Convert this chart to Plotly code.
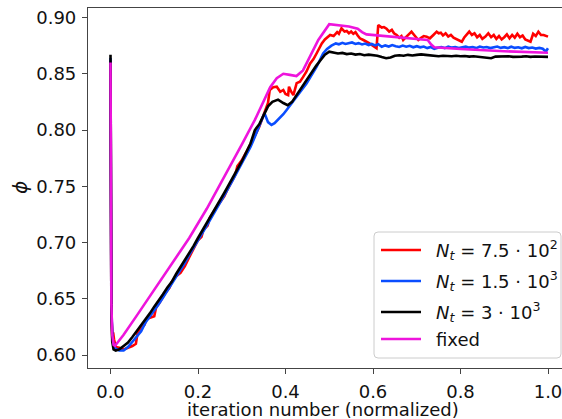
import plotly.graph_objects as go

# ---------------- data ----------------
x_fixed = [0, 0.001, 0.002, 0.004, 0.007, 0.010, 0.03, 0.06, 0.10, 0.14, 0.18, 0.22, 0.26, 0.30,
           0.33, 0.35, 0.365, 0.38, 0.395, 0.41, 0.425, 0.44, 0.46, 0.475, 0.50, 0.52, 0.545, 0.565,
           0.575, 0.585, 0.60, 0.65, 0.70, 0.725, 0.733, 0.74, 0.80, 0.90, 1.0]
y_fixed = [0.860, 0.72, 0.645, 0.618, 0.609, 0.608, 0.618, 0.635, 0.658, 0.681, 0.704, 0.730, 0.758, 0.787,
           0.809, 0.825, 0.838, 0.846, 0.850, 0.849, 0.848, 0.853, 0.868, 0.880, 0.894, 0.893, 0.892, 0.890,
           0.887, 0.885, 0.8845, 0.883, 0.881, 0.880, 0.876, 0.8735, 0.872, 0.870, 0.8687]

x_black = [0, 0.001, 0.002, 0.004, 0.007, 0.012, 0.02, 0.03, 0.04, 0.05, 0.06, 0.07, 0.08, 0.09, 0.10,
           0.11, 0.12, 0.13, 0.14, 0.15, 0.16, 0.17, 0.18, 0.19, 0.20, 0.22, 0.24, 0.26, 0.28, 0.30,
           0.32, 0.33, 0.34, 0.35, 0.36, 0.37, 0.383, 0.395, 0.405, 0.415, 0.43, 0.445, 0.46, 0.47,
           0.48, 0.49, 0.50, 0.51, 0.52, 0.53, 0.54, 0.55, 0.56, 0.57, 0.58, 0.59, 0.60, 0.61, 0.62,
           0.63, 0.64, 0.65, 0.66, 0.67, 0.68, 0.69, 0.70, 0.71, 0.72, 0.73, 0.74, 0.75, 0.76, 0.77,
           0.78, 0.79, 0.80, 0.81, 0.82, 0.83, 0.84, 0.85, 0.86, 0.87, 0.88, 0.89, 0.90, 0.91, 0.92,
           0.93, 0.94, 0.95, 0.96, 0.97, 0.98, 0.99, 1.0]
y_black = [0.867, 0.70, 0.64, 0.612, 0.605, 0.604, 0.605, 0.608, 0.611, 0.616, 0.621, 0.626, 0.632, 0.637, 0.643,
           0.648, 0.654, 0.660, 0.665, 0.672, 0.678, 0.685, 0.691, 0.697, 0.704, 0.717, 0.730, 0.744, 0.758, 0.772,
           0.788, 0.800, 0.805, 0.813, 0.821, 0.825, 0.827, 0.824, 0.822, 0.825, 0.834, 0.843, 0.851, 0.857,
           0.862, 0.867, 0.8696, 0.8687, 0.868, 0.8685, 0.8675, 0.868, 0.867, 0.8675, 0.8665, 0.867, 0.8668, 0.866, 0.8648,
           0.8638, 0.8645, 0.866, 0.8665, 0.866, 0.8668, 0.8662, 0.8668, 0.8672, 0.8668, 0.8665, 0.866, 0.8655, 0.866, 0.8658,
           0.8655, 0.866, 0.8655, 0.8658, 0.8652, 0.8656, 0.8652, 0.865, 0.8642, 0.8638, 0.8652, 0.8655, 0.8652, 0.8656, 0.865,
           0.8654, 0.8652, 0.8655, 0.865, 0.8653, 0.865, 0.8652, 0.865]

x_blue = [0, 0.001, 0.002, 0.005, 0.01, 0.02, 0.03, 0.04, 0.05, 0.06, 0.07, 0.08, 0.09, 0.10, 0.11, 0.12,
          0.13, 0.14, 0.15, 0.16, 0.17, 0.18, 0.19, 0.20, 0.22, 0.24, 0.26, 0.28, 0.30, 0.32, 0.33, 0.34,
          0.352, 0.36, 0.368, 0.375, 0.38, 0.387, 0.395, 0.403, 0.415, 0.4255, 0.437, 0.4484, 0.46, 0.471,
          0.486, 0.495, 0.505, 0.515, 0.522, 0.53, 0.537, 0.545, 0.552, 0.56, 0.567, 0.575, 0.582, 0.59,
          0.597, 0.605, 0.612, 0.62, 0.628, 0.636, 0.644, 0.652, 0.66, 0.668, 0.676, 0.684, 0.692, 0.70,
          0.708, 0.716, 0.724, 0.732, 0.74, 0.748, 0.756, 0.764, 0.772, 0.78, 0.788, 0.796, 0.804, 0.812,
          0.82, 0.828, 0.836, 0.844, 0.852, 0.86, 0.868, 0.876, 0.884, 0.892, 0.90, 0.908, 0.916, 0.924,
          0.932, 0.94, 0.948, 0.956, 0.964, 0.972, 0.98, 0.988, 0.995, 1.0]
y_blue = [0.864, 0.70, 0.64, 0.612, 0.606, 0.604, 0.604, 0.607, 0.612, 0.617, 0.621, 0.629, 0.634, 0.640, 0.645, 0.651,
          0.657, 0.663, 0.669, 0.676, 0.682, 0.689, 0.695, 0.702, 0.715, 0.728, 0.742, 0.756, 0.770, 0.785, 0.794, 0.803,
          0.815, 0.807, 0.8045, 0.806, 0.808, 0.8105, 0.814, 0.818, 0.824, 0.8297, 0.836, 0.8416, 0.849, 0.856,
          0.868, 0.872, 0.875, 0.877, 0.8762, 0.8775, 0.8765, 0.877, 0.8778, 0.8765, 0.8772, 0.876, 0.8768, 0.8755,
          0.8765, 0.8752, 0.8762, 0.874, 0.8752, 0.8742, 0.8755, 0.8745, 0.8738, 0.875, 0.874, 0.8748, 0.8735, 0.8745,
          0.8735, 0.8742, 0.8728, 0.8738, 0.8722, 0.8732, 0.8738, 0.8728, 0.8742, 0.8732, 0.8738, 0.8728, 0.8736, 0.8742,
          0.8732, 0.8738, 0.8728, 0.8742, 0.8733, 0.8738, 0.8728, 0.8735, 0.8742, 0.873, 0.8736, 0.8728, 0.874, 0.873,
          0.8735, 0.8726, 0.8738, 0.8728, 0.8733, 0.8724, 0.873, 0.8722, 0.8698, 0.8727]

x_red = [0, 0.001, 0.002, 0.004, 0.006, 0.008, 0.012, 0.02, 0.03, 0.04, 0.05, 0.058, 0.062, 0.07, 0.078, 0.082,
         0.095, 0.10, 0.104, 0.113, 0.125, 0.135, 0.14, 0.15, 0.16, 0.17, 0.18, 0.19, 0.20, 0.208, 0.212, 0.222,
         0.227, 0.24, 0.255, 0.26, 0.266, 0.275, 0.285, 0.29, 0.30, 0.31, 0.32, 0.33, 0.34, 0.3455, 0.352, 0.36,
         0.364, 0.372, 0.38, 0.388, 0.395, 0.40, 0.406, 0.408, 0.413, 0.418, 0.4255, 0.433, 0.44, 0.448, 0.456,
         0.464, 0.471, 0.483, 0.49, 0.502, 0.51, 0.518, 0.522, 0.528, 0.535, 0.54, 0.545, 0.55, 0.555, 0.56,
         0.565, 0.57, 0.578, 0.586, 0.592, 0.597, 0.603, 0.608, 0.612, 0.62, 0.625, 0.631, 0.637, 0.643, 0.648,
         0.654, 0.66, 0.665, 0.669, 0.676, 0.682, 0.688, 0.695, 0.7036, 0.71, 0.716, 0.7227, 0.73, 0.738, 0.7455,
         0.75, 0.755, 0.76, 0.766, 0.772, 0.778, 0.784, 0.79, 0.796, 0.803, 0.809, 0.814, 0.82, 0.826, 0.832,
         0.838, 0.844, 0.85, 0.857, 0.8636, 0.87, 0.876, 0.882, 0.888, 0.894, 0.90, 0.906, 0.912, 0.918, 0.924,
         0.93, 0.936, 0.942, 0.948, 0.954, 0.96, 0.966, 0.972, 0.978, 0.984, 0.99, 1.0]
y_red = [0.862, 0.70, 0.64, 0.615, 0.620, 0.614, 0.607, 0.6065, 0.605, 0.6065, 0.608, 0.610, 0.620, 0.624, 0.627, 0.632,
         0.634, 0.6345, 0.642, 0.647, 0.655, 0.660, 0.665, 0.670, 0.673, 0.679, 0.687, 0.695, 0.702, 0.705, 0.711, 0.715,
         0.722, 0.730, 0.738, 0.741, 0.746, 0.752, 0.760, 0.768, 0.773, 0.780, 0.787, 0.795, 0.803, 0.809, 0.815, 0.824,
         0.8356, 0.838, 0.8385, 0.834, 0.8356, 0.832, 0.831, 0.8385, 0.834, 0.831, 0.8416, 0.843, 0.847, 0.852, 0.859,
         0.863, 0.868, 0.877, 0.8805, 0.8845, 0.8835, 0.887, 0.8855, 0.8904, 0.8875, 0.888, 0.886, 0.8875, 0.8855, 0.887,
         0.884, 0.8815, 0.880, 0.8785, 0.877, 0.8756, 0.874, 0.8727, 0.8933, 0.891, 0.8915, 0.890, 0.8875, 0.889, 0.886,
         0.8845, 0.882, 0.8835, 0.880, 0.8825, 0.8845, 0.8874, 0.884, 0.880, 0.882, 0.8835, 0.883, 0.8815, 0.8845, 0.8874,
         0.886, 0.8865, 0.884, 0.886, 0.883, 0.8845, 0.882, 0.881, 0.8795, 0.8785, 0.8825, 0.8845, 0.8875, 0.8845, 0.886,
         0.8825, 0.8845, 0.881, 0.883, 0.886, 0.8825, 0.8845, 0.881, 0.8835, 0.8805, 0.8825, 0.885, 0.8815, 0.8845, 0.882,
         0.8855, 0.8825, 0.884, 0.8805, 0.8795, 0.8785, 0.8855, 0.8835, 0.8874, 0.8845, 0.8845, 0.883]

series_names = ["<i>N</i><sub><i>t</i></sub> = 7.5 · 10<sup>2</sup>",
                "<i>N</i><sub><i>t</i></sub> = 1.5 · 10<sup>3</sup>",
                "<i>N</i><sub><i>t</i></sub> = 3 · 10<sup>3</sup>",
                "fixed"]
series_colors = ["#ff0000", "#0a4dff", "#000000", "#ee14dc"]
x_ticks = [0.0, 0.2, 0.4, 0.6, 0.8, 1.0]
y_ticks = [0.60, 0.65, 0.70, 0.75, 0.80, 0.85, 0.90]

# ---------------- layout geometry (pixels) ----------------
W, H = 562, 419
L, R, T, B = 88, 562, 8, 368
PW, PH = R - L, B - T


def px(xp):
    return (xp - L) / PW


def py(yp):
    return (B - yp) / PH


FONT = "DejaVu Sans"
FS = 18
xs = [x_red, x_blue, x_black, x_fixed]
ys = [y_red, y_blue, y_black, y_fixed]

fig = go.Figure()
for xv, yv, nm, col in zip(xs, ys, series_names, series_colors):
    fig.add_trace(go.Scatter(x=xv, y=yv, mode="lines", name=nm,
                             line=dict(color=col, width=2.6), showlegend=False))

fig.update_layout(
    width=W, height=H,
    margin=dict(l=L, r=W - R, t=T, b=H - B, pad=0),
    paper_bgcolor="white", plot_bgcolor="white",
    font=dict(family=FONT, size=FS, color="#111111"),
    xaxis=dict(range=[-22.5 / 437.5, (R - 110.5) / 437.5], tickvals=x_ticks,
               ticktext=[f"{v:.1f}" for v in x_ticks], showgrid=False, zeroline=False,
               showline=True, linecolor="#444444", linewidth=1.2, mirror=True,
               ticks="outside", ticklen=5, tickwidth=1.2, tickcolor="#444444",
               tickfont=dict(family=FONT, size=FS, color="#111111"), ticklabelstandoff=2,
               ticklabeloverflow="allow"),
    yaxis=dict(range=[0.90 - (B - 17.5) / 1125, 0.90 + (17.5 - T) / 1125], tickvals=y_ticks,
               ticktext=[f"{v:.2f}" for v in y_ticks], showgrid=False, zeroline=False,
               showline=True, linecolor="#444444", linewidth=1.2, mirror=False,
               ticks="outside", ticklen=5, tickwidth=1.2, tickcolor="#444444",
               tickfont=dict(family=FONT, size=FS, color="#111111"), ticklabelstandoff=2),
)

# axis titles
fig.add_annotation(text="iteration number (normalized)", xref="paper", yref="paper",
                   x=px(323), y=py(409), xanchor="center", yanchor="middle",
                   showarrow=False, font=dict(family=FONT, size=FS, color="#111111"))
fig.add_annotation(text="<i>ϕ</i>", xref="paper", yref="paper",
                   x=px(20), y=py(188), xanchor="center", yanchor="middle", textangle=-90,
                   showarrow=False, font=dict(family=FONT, size=20, color="#111111"))

# legend box (drawn by hand to match the matplotlib frame)
lx0, lx1, ly0, ly1, r = 374, 561, 232, 358, 4
rx, ry = r / PW, r / PH
X0, X1, Y0, Y1 = px(lx0), px(lx1), py(ly1), py(ly0)
path = (f"M {X0+rx},{Y0} L {X1-rx},{Y0} Q {X1},{Y0} {X1},{Y0+ry} L {X1},{Y1-ry} "
        f"Q {X1},{Y1} {X1-rx},{Y1} L {X0+rx},{Y1} Q {X0},{Y1} {X0},{Y1-ry} L {X0},{Y0+ry} "
        f"Q {X0},{Y0} {X0+rx},{Y0} Z")
fig.add_shape(type="path", path=path, xref="paper", yref="paper",
              line=dict(color="#cccccc", width=1), fillcolor="rgba(255,255,255,0.8)", layer="above")
rows = [250, 281, 312, 339]
for yrow, nm, col in zip(rows, series_names, series_colors):
    fig.add_shape(type="line", xref="paper", yref="paper", x0=px(381), x1=px(421),
                  y0=py(yrow), y1=py(yrow), line=dict(color=col, width=2.6), layer="above")
    fig.add_annotation(text=nm, xref="paper", yref="paper", x=px(434), y=py(yrow),
                       xanchor="left", yanchor="middle", showarrow=False,
                       font=dict(family=FONT, size=FS, color="#111111"))

fig.write_html("out.html")
